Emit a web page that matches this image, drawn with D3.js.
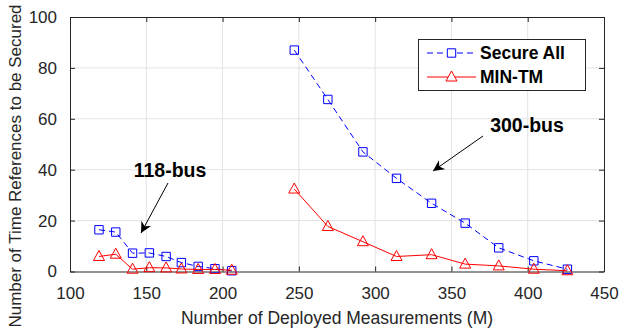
<!DOCTYPE html>
<html>
<head>
<meta charset="utf-8">
<script src="https://cdn.jsdelivr.net/npm/d3@7"></script>
<style>
body { margin: 0; background: #fff; }
text { font-family: "Liberation Sans", Arial, sans-serif; }
</style>
</head>
<body>
<svg id="chart" width="621" height="333"></svg>
<script>
// measurements (M) for each test system
var m118 = [119, 130, 141, 152, 163, 173, 184, 195, 206];
var m300 = [247, 269, 292, 314, 337, 359, 381, 404, 426];

// time references to be secured
var secureAll118 = [16.4, 15.5, 7.2, 7.3, 5.9, 3.5, 2.0, 1.1, 0.3];
var minTm118 = [5.9, 6.8, 0.9, 1.5, 1.4, 1.0, 0.8, 0.8, 0.5];
var secureAll300 = [87, 67.6, 47, 36.6, 26.8, 19, 9.3, 4.2, 0.9];
var minTm300 = [32.4, 17.7, 11.7, 5.9, 6.6, 2.9, 2.2, 0.9, 0.3];

var xTicks = [100, 150, 200, 250, 300, 350, 400, 450];
var yTicks = [0, 20, 40, 60, 80, 100];

var svg = d3.select("#chart");
var pLeft = 70, pRight = 604, pTop = 17, pBottom = 271.5;

var x = d3.scaleLinear().domain([100, 450]).range([pLeft, pRight]);
var y = d3.scaleLinear().domain([0, 100]).range([pBottom, pTop]);

// grid
var grid = svg.append("g").attr("stroke", "#e3e3e3").attr("stroke-width", 1);
grid.selectAll(".gx").data(xTicks.slice(1, -1)).enter().append("line")
	.attr("x1", function(d) { return x(d); }).attr("x2", function(d) { return x(d); })
	.attr("y1", pTop).attr("y2", pBottom);
grid.selectAll(".gy").data(yTicks.slice(1, -1)).enter().append("line")
	.attr("x1", pLeft).attr("x2", pRight)
	.attr("y1", function(d) { return y(d); }).attr("y2", function(d) { return y(d); });

// axes (ticks inside, mirrored for box)
var axColor = "#262626";
var gxb = svg.append("g").attr("transform", "translate(0," + pBottom + ")")
	.call(d3.axisBottom(x).tickValues(xTicks).tickSizeInner(-5).tickSizeOuter(0).tickPadding(15));
var gxt = svg.append("g").attr("transform", "translate(0," + pTop + ")")
	.call(d3.axisTop(x).tickValues(xTicks).tickSizeInner(-5).tickSizeOuter(0).tickFormat(""));
var gyl = svg.append("g").attr("transform", "translate(" + pLeft + ",0)")
	.call(d3.axisLeft(y).tickValues(yTicks).tickSizeInner(-5).tickSizeOuter(0).tickPadding(13));
var gyr = svg.append("g").attr("transform", "translate(" + pRight + ",0)")
	.call(d3.axisRight(y).tickValues(yTicks).tickSizeInner(-5).tickSizeOuter(0).tickFormat(""));

[gxb, gxt, gyl, gyr].forEach(function(g) {
	g.selectAll("path").attr("stroke", axColor).attr("stroke-width", 1);
	g.selectAll("line").attr("stroke", axColor);
	g.selectAll("text").attr("fill", axColor).style("font-size", "17px")
		.style("font-family", "'Liberation Sans', Arial, sans-serif");
});

// axis titles
svg.append("text")
	.attr("x", 337).attr("y", 324)
	.attr("text-anchor", "middle")
	.attr("fill", axColor)
	.style("font-size", "17.5px")
	.text("Number of Deployed Measurements (M)");
svg.append("text")
	.attr("transform", "translate(21,166) rotate(-90)")
	.attr("text-anchor", "middle")
	.attr("fill", axColor)
	.style("font-size", "17px")
	.text("Number of Time References to be Secured");

var line = d3.line()
	.x(function(d) { return x(d[0]); })
	.y(function(d) { return y(d[1]); });

var plot = svg.append("g");

function drawSeries(ms, vals, color, dashed, marker) {
	var pts = d3.zip(ms, vals);
	plot.append("path")
		.datum(pts)
		.attr("d", line)
		.attr("fill", "none")
		.attr("stroke", color)
		.attr("stroke-width", 1)
		.attr("stroke-dasharray", dashed ? "6,4" : null);
	plot.selectAll(null).data(pts).enter().append("path")
		.attr("transform", function(d) { return "translate(" + x(d[0]) + "," + y(d[1]) + ")"; })
		.attr("d", marker)
		.attr("fill", "none")
		.attr("stroke", color)
		.attr("stroke-width", 1);
}

var squareMark = "M-4.2,-4.2H4.2V4.2H-4.2Z";
var triMark = "M0,-6L5.5,4H-5.5Z";

drawSeries(m118, secureAll118, "#0000ff", true, squareMark);
drawSeries(m300, secureAll300, "#0000ff", true, squareMark);
drawSeries(m118, minTm118, "#ff0000", false, triMark);
drawSeries(m300, minTm300, "#ff0000", false, triMark);

// annotations
svg.append("defs").append("marker")
	.attr("id", "arrow")
	.attr("viewBox", "0 0 10 10")
	.attr("refX", 10).attr("refY", 5)
	.attr("markerWidth", 15).attr("markerHeight", 11)
	.attr("markerUnits", "userSpaceOnUse")
	.attr("orient", "auto")
	.append("path").attr("d", "M0,0L10,5L0,10L3,5Z").attr("fill", "#000");

svg.append("line")
	.attr("x1", 168).attr("y1", 183).attr("x2", 141).attr("y2", 233)
	.attr("stroke", "#000").attr("stroke-width", 1)
	.attr("marker-end", "url(#arrow)");
svg.append("line")
	.attr("x1", 483).attr("y1", 136).attr("x2", 433).attr("y2", 171)
	.attr("stroke", "#000").attr("stroke-width", 1)
	.attr("marker-end", "url(#arrow)");

svg.append("text").attr("x", 170).attr("y", 177)
	.attr("text-anchor", "middle")
	.style("font-size", "19.5px").style("font-weight", "bold")
	.text("118-bus");
svg.append("text").attr("x", 527).attr("y", 132)
	.attr("text-anchor", "middle")
	.style("font-size", "19.5px").style("font-weight", "bold")
	.text("300-bus");

// legend
var legend = svg.append("g");
legend.append("rect")
	.attr("x", 418.5).attr("y", 39.5).attr("width", 167).attr("height", 51)
	.attr("fill", "#fff").attr("stroke", axColor).attr("stroke-width", 1);
var legendItems = [
	{ name: "Secure All", color: "#0000ff", dashed: true, marker: squareMark, y: 53 },
	{ name: "MIN-TM", color: "#ff0000", dashed: false, marker: triMark, y: 77 }
];
legendItems.forEach(function(it) {
	legend.append("line")
		.attr("x1", 427).attr("x2", 476).attr("y1", it.y).attr("y2", it.y)
		.attr("stroke", it.color).attr("stroke-width", 1)
		.attr("stroke-dasharray", it.dashed ? "6,4" : null);
	legend.append("path")
		.attr("transform", "translate(451.5," + it.y + ")")
		.attr("d", it.marker)
		.attr("fill", "#fff").attr("stroke", it.color).attr("stroke-width", 1);
	legend.append("text")
		.attr("x", 480).attr("y", it.y + 6)
		.style("font-size", "17.5px").style("font-weight", "bold")
		.text(it.name);
});
</script>
</body>
</html>
